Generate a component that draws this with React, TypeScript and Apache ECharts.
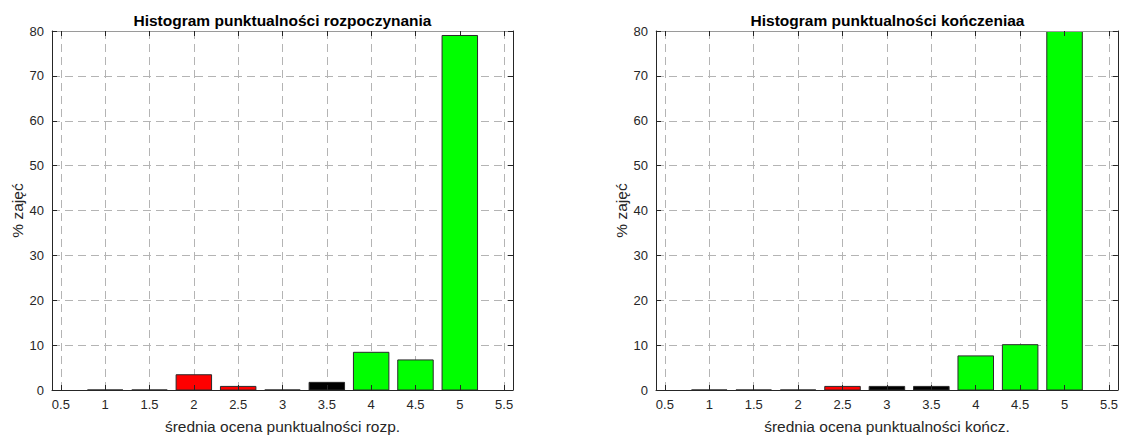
import React, { useEffect, useRef } from "react";
import * as echarts from "echarts";

// ---- data ----
const binsLeft = [1, 1.5, 2, 2.5, 3, 3.5, 4, 4.5, 5];
const valuesLeft = [0, 0, 3.4, 0.8, 0, 1.7, 8.4, 6.7, 79.0];
const binsRight = [1, 1.5, 2, 2.5, 3, 3.5, 4, 4.5, 5];
const valuesRight = [0, 0, 0, 0.8, 0.8, 0.8, 7.6, 10.1, 80.0];

const titleLeft = "Histogram punktualności rozpoczynania";
const titleRight = "Histogram punktualności kończeniaa";
const xNameLeft = "średnia ocena punktualności rozp.";
const xNameRight = "średnia ocena punktualności kończ.";
const yName = "% zajęć";

const xMin = 0.4;
const xMax = 5.6;
const xStep = 0.5;
const yMin = 0;
const yMax = 80;
const yStep = 10;
const halfBar = 0.2;

const FONT = "'Liberation Sans', Arial, Helvetica, sans-serif";
const TXT = "#262626";
const GRIDC = "#b4b4b4";

function barColor(x: number) {
  if (x < 3) return "#ff0000";
  if (x < 4) return "#000000";
  return "#00ff00";
}

const grids = [
  { left: 52, top: 31, width: 461, height: 365 },
  { left: 656, top: 31, width: 463, height: 365 },
];

function xLabelFmt(v: number) {
  const k = v / xStep;
  return Math.abs(k - Math.round(k)) < 1e-6 ? String(Math.round(v * 10) / 10) : "";
}

function buildAxes(gi: number, xName: string) {
  const base = {
    gridIndex: gi,
    type: "value" as const,
    min: xMin,
    max: xMax,
    minInterval: xStep,
    maxInterval: xStep,
    splitNumber: 10,
  };
  const xs = [
    // data axis + vertical grid lines
    {
      ...base,
      position: "bottom",
      axisLine: { show: false },
      axisTick: { show: false },
      axisLabel: { show: false },
      splitLine: { show: true, lineStyle: { color: GRIDC, type: [8, 5], width: 1 } },
    },
    // bottom visible axis
    {
      ...base,
      position: "bottom",
      z: 5,
      axisLine: { show: true, onZero: false, lineStyle: { color: TXT, width: 1 } },
      axisTick: { show: true, inside: true, length: 5, lineStyle: { color: TXT } },
      axisLabel: {
        show: true,
        color: TXT,
        fontFamily: FONT,
        fontSize: 13,
        margin: 8,
        showMinLabel: false,
        showMaxLabel: false,
        formatter: xLabelFmt,
      },
      splitLine: { show: false },
      name: xName,
      nameLocation: "middle",
      nameGap: 28,
      nameTextStyle: { color: TXT, fontFamily: FONT, fontSize: 15.5 },
    },
    // top frame
    {
      ...base,
      position: "top",
      z: 5,
      axisLine: { show: true, onZero: false, lineStyle: { color: "#9a9a9a", width: 1 } },
      axisTick: { show: true, inside: true, length: 5, lineStyle: { color: TXT } },
      axisLabel: { show: false },
      splitLine: { show: false },
    },
  ];
  const ybase = {
    gridIndex: gi,
    type: "value" as const,
    min: yMin,
    max: yMax,
    interval: yStep,
  };
  const ys = [
    {
      ...ybase,
      position: "left",
      axisLine: { show: false },
      axisTick: { show: false },
      axisLabel: { show: false },
      splitLine: { show: true, lineStyle: { color: GRIDC, type: [8, 5], width: 1 } },
    },
    {
      ...ybase,
      position: "left",
      z: 5,
      axisLine: { show: true, onZero: false, lineStyle: { color: TXT, width: 1 } },
      axisTick: { show: true, inside: true, length: 5, lineStyle: { color: TXT } },
      axisLabel: { show: true, color: TXT, fontFamily: FONT, fontSize: 13, margin: 8 },
      splitLine: { show: false },
      name: yName,
      nameLocation: "middle",
      nameGap: 26,
      nameTextStyle: { color: TXT, fontFamily: FONT, fontSize: 15.5 },
    },
    {
      ...ybase,
      position: "right",
      z: 5,
      axisLine: { show: true, onZero: false, lineStyle: { color: TXT, width: 1 } },
      axisTick: { show: true, inside: true, length: 5, lineStyle: { color: TXT } },
      axisLabel: { show: false },
      splitLine: { show: false },
    },
  ];
  return { xs, ys };
}

function barSeries(bins: number[], values: number[], axisIdx: number) {
  return {
    type: "custom",
    xAxisIndex: axisIdx,
    yAxisIndex: axisIdx,
    z: 2,
    clip: true,
    data: bins.map((b, i) => [b, values[i]]),
    renderItem: (_params: any, api: any) => {
      const x = api.value(0);
      const y = api.value(1);
      const p0 = api.coord([x - halfBar, y]);
      const p1 = api.coord([x + halfBar, 0]);
      return {
        type: "rect",
        shape: { x: p0[0], y: p0[1], width: p1[0] - p0[0], height: p1[1] - p0[1] },
        style: { fill: barColor(x), stroke: "#2a2a2a", lineWidth: 1 },
      };
    },
  };
}

export default function App() {
  const ref = useRef<HTMLDivElement>(null);
  useEffect(() => {
    if (!ref.current) return;
    const chart = echarts.init(ref.current, undefined, { renderer: "svg" });
    const a = buildAxes(0, xNameLeft);
    const b = buildAxes(1, xNameRight);
    const option: any = {
      animation: false,
      backgroundColor: "#ffffff",
      grid: grids.map((g) => ({ ...g, containLabel: false })),
      xAxis: [...a.xs, ...b.xs],
      yAxis: [...a.ys, ...b.ys],
      series: [barSeries(binsLeft, valuesLeft, 0), barSeries(binsRight, valuesRight, 3)],
      graphic: [
        {
          type: "text",
          x: grids[0].left + grids[0].width / 2,
          y: 20,
          style: {
            text: titleLeft,
            fill: "#000000",
            font: `bold 15.5px ${FONT}`,
            textAlign: "center",
            textVerticalAlign: "middle",
          },
        },
        {
          type: "text",
          x: grids[1].left + grids[1].width / 2,
          y: 20,
          style: {
            text: titleRight,
            fill: "#000000",
            font: `bold 15.5px ${FONT}`,
            textAlign: "center",
            textVerticalAlign: "middle",
          },
        },
      ],
    };
    chart.setOption(option);
    return () => chart.dispose();
  }, []);
  return (
    <div
      ref={ref}
      style={{ position: "fixed", left: 0, top: 0, width: 1121, height: 439, background: "#fff" }}
    />
  );
}
